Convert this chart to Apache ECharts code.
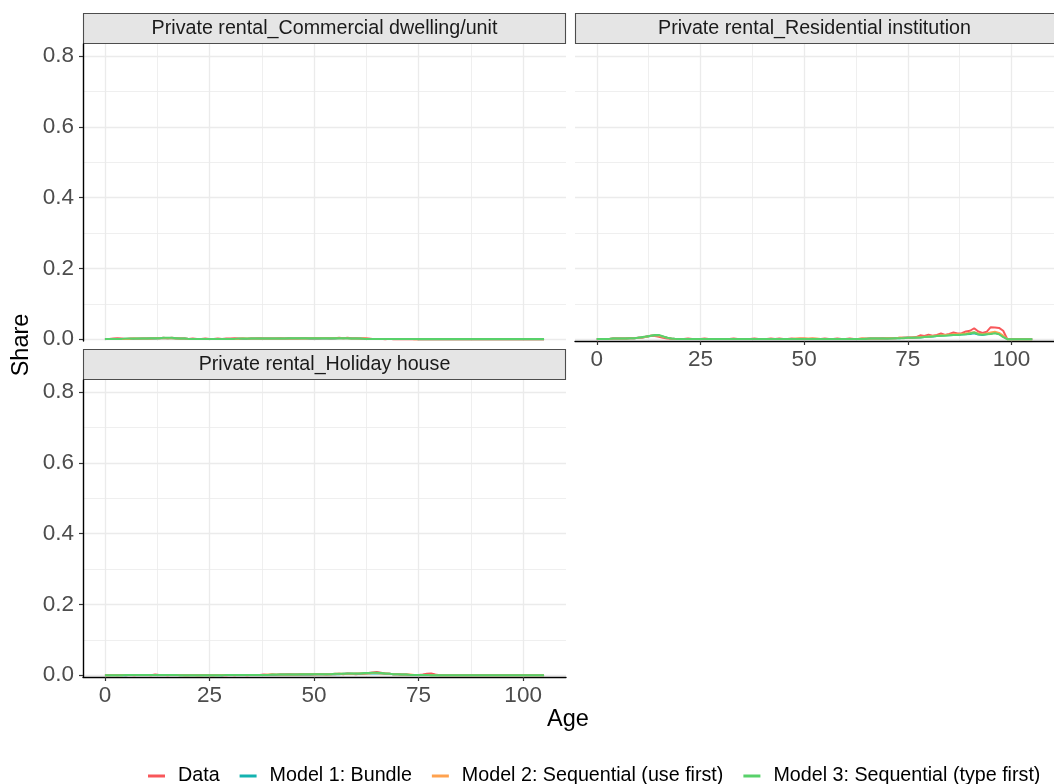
<!DOCTYPE html>
<html>
<head>
<meta charset="utf-8">
<script src="https://cdn.jsdelivr.net/npm/echarts@6/dist/echarts.min.js"></script>
<style>
  html, body { margin: 0; padding: 0; background: #fff; }
  #chart { width: 1054px; height: 784px; }
</style>
</head>
<body>
<div id="chart"></div>
<script>
// Age (x) values shared by every panel
const ages = [
  0,1,2,3,4,5,6,7,8,9,
  10,11,12,13,14,15,16,17,18,19,
  20,21,22,23,24,25,26,27,28,29,
  30,31,32,33,34,35,36,37,38,39,
  40,41,42,43,44,45,46,47,48,49,
  50,51,52,53,54,55,56,57,58,59,
  60,61,62,63,64,65,66,67,68,69,
  70,71,72,73,74,75,76,77,78,79,
  80,81,82,83,84,85,86,87,88,89,
  90,91,92,93,94,95,96,97,98,99,
  100,101,102,103,104,105
];

const seriesNames = [
  'Data',
  'Model 1: Bundle',
  'Model 2: Sequential (use first)',
  'Model 3: Sequential (type first)'
];

const panelTitles = [
  'Private rental_Commercial dwelling/unit',
  'Private rental_Residential institution',
  'Private rental_Holiday house'
];

const xTicks = [0, 25, 50, 75, 100];
const xMinor = [12.5, 37.5, 62.5, 87.5];
const yTicks = [0, 0.2, 0.4, 0.6, 0.8];
const yMinor = [0.1, 0.3, 0.5, 0.7];

// --- Private rental_Commercial dwelling/unit ---
const commData = [
  0.001,0.001,0.002,0.003,0.002,0.001,0.002,0.002,0.001,0.002,
  0.002,0.002,0.003,0.003,0.004,0.003,0.004,0.003,0.002,0.002,
  0.001,0.002,0.001,0.001,0.002,0.001,0.001,0.002,0.001,0.002,
  0.002,0.003,0.002,0.002,0.001,0.002,0.002,0.003,0.002,0.002,
  0.002,0.002,0.003,0.002,0.003,0.002,0.002,0.003,0.003,0.002,
  0.003,0.002,0.003,0.003,0.002,0.003,0.004,0.003,0.004,0.003,
  0.003,0.002,0.003,0.002,0.001,0.001,0.001,0.000,0.001,0.000,
  0,0,0,0,0,0,0,0,0,0,
  0,0,0,0,0,0,0,0,0,0,
  0,0,0,0,0,0,0,0,0,0,
  0,0,0,0,0,0
];
const commM1 = [
  0.001,0.001,0.001,0.001,0.001,0.001,0.001,0.001,0.002,0.002,
  0.002,0.002,0.002,0.003,0.003,0.003,0.003,0.002,0.002,0.002,
  0.001,0.001,0.001,0.001,0.001,0.001,0.001,0.001,0.001,0.001,
  0.001,0.001,0.001,0.001,0.001,0.002,0.002,0.002,0.002,0.002,
  0.002,0.002,0.002,0.002,0.002,0.002,0.002,0.002,0.002,0.002,
  0.002,0.002,0.002,0.002,0.002,0.002,0.003,0.003,0.003,0.002,
  0.002,0.002,0.001,0.001,0.001,0.001,0.001,0.001,0.001,0.001,
  0.001,0.001,0.001,0.001,0.001,0.000,0,0,0,0,
  0,0,0,0,0,0,0,0,0,0,
  0,0,0,0,0,0,0,0,0,0,
  0,0,0,0,0,0
];
const commM2 = [
  0.001,0.001,0.001,0.001,0.001,0.001,0.001,0.002,0.002,0.002,
  0.002,0.002,0.003,0.003,0.003,0.003,0.003,0.002,0.002,0.002,
  0.001,0.001,0.001,0.001,0.001,0.001,0.001,0.001,0.001,0.001,
  0.001,0.001,0.001,0.002,0.002,0.002,0.002,0.002,0.002,0.002,
  0.002,0.002,0.002,0.002,0.002,0.002,0.002,0.002,0.002,0.003,
  0.003,0.003,0.003,0.003,0.003,0.003,0.003,0.003,0.003,0.002,
  0.002,0.002,0.002,0.001,0.001,0.001,0.001,0.001,0.001,0.001,
  0.001,0.001,0.001,0.001,0.000,0,0,0,0,0,
  0,0,0,0,0,0,0,0,0,0,
  0,0,0,0,0,0,0,0,0,0,
  0,0,0,0,0,0
];
const commM3 = [
  0.001,0.001,0.001,0.001,0.001,0.002,0.002,0.002,0.002,0.002,
  0.002,0.003,0.003,0.003,0.004,0.004,0.004,0.003,0.002,0.002,
  0.001,0.001,0.001,0.001,0.001,0.001,0.001,0.001,0.001,0.001,
  0.001,0.001,0.002,0.002,0.002,0.002,0.002,0.002,0.002,0.002,
  0.002,0.002,0.002,0.002,0.003,0.003,0.003,0.003,0.003,0.003,
  0.003,0.003,0.003,0.003,0.003,0.003,0.003,0.003,0.003,0.002,
  0.002,0.002,0.001,0.001,0.001,0.001,0.001,0.001,0.001,0.001,
  0.001,0.001,0.001,0.001,0.001,0.001,0.001,0.001,0.001,0.001,
  0.001,0.001,0.001,0.001,0.001,0.001,0.001,0.001,0.001,0.001,
  0.001,0.001,0.001,0.001,0.001,0.001,0.001,0.001,0.001,0.001,
  0.001,0.001,0.001,0.001,0.001,0.001
];

// --- Private rental_Residential institution ---
const instData = [
  0.000,0.001,0.001,0.001,0.002,0.002,0.002,0.002,0.003,0.003,
  0.004,0.005,0.008,0.010,0.009,0.007,0.004,0.002,0.001,0.001,
  0.001,0.001,0.002,0.001,0.001,0.001,0.002,0.001,0.001,0.001,
  0.001,0.001,0.001,0.002,0.001,0.001,0.001,0.001,0.002,0.001,
  0.001,0.001,0.002,0.001,0.002,0.001,0.001,0.002,0.001,0.002,
  0.002,0.001,0.002,0.001,0.001,0.002,0.001,0.001,0.002,0.001,
  0.001,0.002,0.001,0.001,0.002,0.001,0.002,0.002,0.002,0.003,
  0.002,0.003,0.003,0.004,0.004,0.005,0.005,0.006,0.011,0.009,
  0.013,0.010,0.012,0.016,0.012,0.015,0.019,0.016,0.017,0.022,
  0.024,0.031,0.022,0.018,0.021,0.034,0.033,0.032,0.024,0.000,
  0,0,0,0,0,0
];
const instM1 = [
  0.001,0.001,0.001,0.001,0.002,0.002,0.002,0.002,0.003,0.003,
  0.004,0.005,0.007,0.009,0.011,0.010,0.007,0.004,0.002,0.001,
  0.001,0.001,0.001,0.001,0.001,0.001,0.001,0.001,0.001,0.001,
  0.001,0.001,0.001,0.001,0.001,0.001,0.001,0.001,0.001,0.001,
  0.001,0.001,0.001,0.001,0.001,0.001,0.001,0.001,0.001,0.001,
  0.001,0.001,0.001,0.001,0.001,0.001,0.001,0.001,0.001,0.001,
  0.001,0.001,0.001,0.001,0.001,0.002,0.002,0.002,0.002,0.002,
  0.002,0.003,0.003,0.003,0.004,0.004,0.004,0.005,0.005,0.006,
  0.007,0.008,0.009,0.010,0.011,0.011,0.012,0.012,0.013,0.014,
  0.015,0.017,0.013,0.012,0.014,0.016,0.018,0.015,0.008,0.000,
  0,0,0,0,0,0
];
const instM2 = [
  0.001,0.001,0.001,0.001,0.002,0.002,0.002,0.002,0.003,0.003,
  0.004,0.005,0.007,0.010,0.011,0.010,0.007,0.004,0.002,0.001,
  0.001,0.001,0.001,0.001,0.001,0.001,0.001,0.001,0.001,0.001,
  0.001,0.001,0.001,0.001,0.001,0.001,0.001,0.001,0.001,0.001,
  0.001,0.001,0.001,0.001,0.001,0.001,0.001,0.001,0.002,0.002,
  0.002,0.002,0.002,0.002,0.001,0.001,0.001,0.001,0.001,0.001,
  0.001,0.001,0.001,0.001,0.002,0.002,0.002,0.002,0.002,0.002,
  0.003,0.003,0.003,0.004,0.004,0.004,0.005,0.005,0.006,0.007,
  0.008,0.009,0.010,0.011,0.012,0.013,0.014,0.014,0.015,0.016,
  0.018,0.020,0.016,0.014,0.016,0.019,0.021,0.018,0.010,0.000,
  0,0,0,0,0,0
];
const instM3 = [
  0.001,0.001,0.001,0.001,0.002,0.002,0.002,0.002,0.003,0.003,
  0.004,0.006,0.008,0.010,0.012,0.012,0.008,0.004,0.002,0.001,
  0.001,0.001,0.001,0.001,0.001,0.001,0.001,0.001,0.001,0.001,
  0.001,0.001,0.001,0.001,0.001,0.001,0.001,0.001,0.001,0.001,
  0.001,0.001,0.001,0.001,0.001,0.001,0.001,0.001,0.001,0.001,
  0.001,0.001,0.001,0.001,0.001,0.001,0.001,0.001,0.001,0.001,
  0.001,0.001,0.001,0.001,0.001,0.001,0.002,0.002,0.002,0.002,
  0.002,0.002,0.003,0.003,0.003,0.004,0.004,0.004,0.005,0.006,
  0.007,0.008,0.009,0.010,0.010,0.011,0.012,0.012,0.013,0.014,
  0.016,0.019,0.014,0.013,0.014,0.015,0.017,0.014,0.006,0.000,
  0,0,0,0,0,0
];

// --- Private rental_Holiday house ---
const holData = [
  0.000,0.000,0.001,0.000,0.001,0.000,0.001,0.000,0.001,0.001,
  0.001,0.000,0.002,0.001,0.001,0.000,0.001,0.001,0.001,0.000,
  0.000,0.001,0.000,0.000,0.001,0.000,0.000,0.001,0.000,0.000,
  0.001,0.000,0.001,0.001,0.000,0.001,0.001,0.001,0.002,0.001,
  0.002,0.001,0.002,0.002,0.003,0.002,0.002,0.003,0.002,0.003,
  0.002,0.003,0.003,0.002,0.003,0.003,0.004,0.003,0.005,0.004,
  0.003,0.004,0.004,0.006,0.008,0.009,0.007,0.005,0.004,0.003,
  0.003,0.002,0.002,0.001,0.001,0.001,0.002,0.004,0.005,0.002,
  0.000,0.000,0.000,0.000,0.000,0.000,0.000,0.000,0.000,0.000,
  0,0,0,0,0,0,0,0,0,0,
  0,0,0,0,0,0
];
const holM1 = [
  0.000,0.000,0.000,0.000,0.000,0.000,0.001,0.001,0.001,0.001,
  0.001,0.001,0.001,0.001,0.001,0.001,0.001,0.001,0.000,0.000,
  0.000,0.000,0.000,0.000,0.000,0.000,0.000,0.000,0.000,0.001,
  0.001,0.001,0.001,0.001,0.001,0.001,0.001,0.001,0.001,0.001,
  0.001,0.001,0.002,0.002,0.002,0.002,0.002,0.002,0.002,0.002,
  0.003,0.003,0.003,0.003,0.003,0.003,0.003,0.004,0.004,0.004,
  0.004,0.004,0.005,0.005,0.005,0.005,0.005,0.004,0.004,0.003,
  0.003,0.002,0.002,0.001,0.001,0.001,0.001,0.001,0.000,0.000,
  0,0,0,0,0,0,0,0,0,0,
  0,0,0,0,0,0,0,0,0,0,
  0,0,0,0,0,0
];
const holM2 = [
  0.000,0.000,0.000,0.000,0.000,0.001,0.001,0.001,0.001,0.001,
  0.001,0.001,0.001,0.001,0.001,0.001,0.001,0.001,0.000,0.000,
  0.000,0.000,0.000,0.000,0.000,0.000,0.000,0.000,0.001,0.001,
  0.001,0.001,0.001,0.001,0.001,0.001,0.001,0.001,0.001,0.002,
  0.002,0.002,0.002,0.002,0.002,0.002,0.002,0.003,0.003,0.003,
  0.003,0.003,0.003,0.003,0.003,0.004,0.004,0.004,0.004,0.004,
  0.005,0.005,0.005,0.005,0.006,0.006,0.005,0.005,0.004,0.003,
  0.003,0.002,0.002,0.002,0.001,0.001,0.001,0.001,0.000,0.000,
  0,0,0,0,0,0,0,0,0,0,
  0,0,0,0,0,0,0,0,0,0,
  0,0,0,0,0,0
];
const holM3 = [
  0.000,0.000,0.000,0.000,0.000,0.001,0.001,0.001,0.001,0.001,
  0.001,0.001,0.001,0.001,0.001,0.001,0.001,0.001,0.000,0.000,
  0.000,0.000,0.000,0.000,0.000,0.000,0.000,0.000,0.000,0.001,
  0.001,0.001,0.001,0.001,0.001,0.001,0.001,0.001,0.001,0.001,
  0.002,0.002,0.002,0.002,0.002,0.002,0.002,0.003,0.003,0.003,
  0.003,0.003,0.003,0.003,0.003,0.004,0.004,0.004,0.005,0.005,
  0.005,0.005,0.006,0.006,0.007,0.007,0.006,0.005,0.004,0.003,
  0.003,0.002,0.002,0.001,0.001,0.001,0.001,0.001,0.000,0.000,
  0,0,0,0,0,0,0,0,0,0,
  0,0,0,0,0,0,0,0,0,0,
  0,0,0,0,0,0
];

const panelValues = [
  [commData, commM1, commM2, commM3],
  [instData, instM1, instM2, instM3],
  [holData, holM1, holM2, holM3]
];

const colors = ['#F8575A', '#14B3B0', '#FFA24F', '#58D16A'];

const FONT = '"Liberation Sans", Arial, Helvetica, sans-serif';
const GRID_MAJOR = '#EBEBEB';

// Panel rectangles (plot area only, strips sit above)
const panels = [
  { left: 83,  top: 44,  width: 483, height: 297, xLabels: false, yLabels: true  },
  { left: 575, top: 44,  width: 481, height: 297, xLabels: true,  yLabels: false },
  { left: 83,  top: 380, width: 483, height: 297, xLabels: true,  yLabels: true  }
];
const STRIP_H = 31;
const X_MIN = -5.25, X_MAX = 110.25;
const Y_MIN = -0.005, Y_MAX = 0.834;

const grids = [], xAxes = [], yAxes = [], series = [], graphics = [];

panels.forEach((p, pi) => {
  grids.push({ left: p.left, top: p.top, width: p.width, height: p.height, containLabel: false });

  // major x axis
  xAxes.push({
    type: 'value', gridIndex: pi, min: X_MIN, max: X_MAX,
    axisLine: { show: p.xLabels, onZero: false, lineStyle: { color: '#000', width: 1.4 } },
    axisTick: { show: p.xLabels, customValues: xTicks, length: 4, lineStyle: { color: '#333', width: 1.2 } },
    axisLabel: { show: p.xLabels, customValues: xTicks, fontSize: 22.5, color: '#4D4D4D',
                 fontFamily: FONT, margin: 7 },
    splitLine: { show: true, lineStyle: { color: GRID_MAJOR, width: 1.3 } }
  });
  // minor x grid
  xAxes.push({
    type: 'value', gridIndex: pi, min: X_MIN, max: X_MAX,
    axisLine: { show: false }, axisTick: { show: false, customValues: xMinor },
    axisLabel: { show: false },
    splitLine: { show: true, lineStyle: { color: GRID_MAJOR, width: 0.8 } }
  });
  // major y axis
  yAxes.push({
    type: 'value', gridIndex: pi, min: Y_MIN, max: Y_MAX,
    axisLine: { show: p.yLabels, onZero: false, lineStyle: { color: '#000', width: 1.4 } },
    axisTick: { show: p.yLabels, customValues: yTicks, length: 4, lineStyle: { color: '#333', width: 1.2 } },
    axisLabel: { show: p.yLabels, customValues: yTicks, fontSize: 22.5, color: '#4D4D4D',
                 fontFamily: FONT, margin: 9, formatter: v => v.toFixed(1) },
    splitLine: { show: true, lineStyle: { color: GRID_MAJOR, width: 1.3 } }
  });
  // minor y grid
  yAxes.push({
    type: 'value', gridIndex: pi, min: Y_MIN, max: Y_MAX,
    axisLine: { show: false }, axisTick: { show: false, customValues: yMinor },
    axisLabel: { show: false },
    splitLine: { show: true, lineStyle: { color: GRID_MAJOR, width: 0.8 } }
  });

  panelValues[pi].forEach((vals, si) => {
    series.push({
      name: seriesNames[si],
      type: 'line',
      xAxisIndex: pi * 2,
      yAxisIndex: pi * 2,
      data: ages.map((a, i) => [a, vals[i]]),
      showSymbol: false,
      symbol: 'none',
      lineStyle: { color: colors[si], width: 2 },
      itemStyle: { color: colors[si] },
      z: 3 + si,
      silent: true,
      animation: false
    });
  });

  // facet strip
  graphics.push({
    type: 'rect',
    shape: { x: p.left + 0.5, y: p.top - STRIP_H + 0.5, width: p.width - 1, height: STRIP_H - 1 },
    style: { fill: '#E5E5E5', stroke: '#4D4D4D', lineWidth: 1.1 }
  });
  graphics.push({
    type: 'text',
    x: p.left + p.width / 2 - (pi === 1 ? 1 : 0),
    y: p.top - STRIP_H / 2,
    style: { text: panelTitles[pi], fill: '#1A1A1A', font: '19.7px ' + FONT,
             textAlign: 'center', textVerticalAlign: 'middle' }
  });
});

// axis titles
graphics.push({
  type: 'text', x: 568, y: 720,
  style: { text: 'Age', fill: '#000', font: '23.5px ' + FONT, textAlign: 'center', textVerticalAlign: 'middle' }
});
graphics.push({
  type: 'text', x: 22, y: 345, rotation: Math.PI / 2,
  style: { text: 'Share', fill: '#000', font: '23.5px ' + FONT, textAlign: 'center', textVerticalAlign: 'middle' }
});

const chart = echarts.init(document.getElementById('chart'), null, { renderer: 'canvas' });
chart.setOption({
  animation: false,
  backgroundColor: '#ffffff',
  color: colors,
  grid: grids,
  xAxis: xAxes,
  yAxis: yAxes,
  series: series,
  graphic: graphics,
  legend: {
    data: seriesNames,
    left: 143,
    top: 761,
    icon: 'rect',
    itemWidth: 17,
    itemHeight: 3,
    itemGap: 20,
    textStyle: { fontSize: 19.7, color: '#000', fontFamily: FONT, padding: [0, 0, 0, 8] },
    selectedMode: false
  }
});
</script>
</body>
</html>
